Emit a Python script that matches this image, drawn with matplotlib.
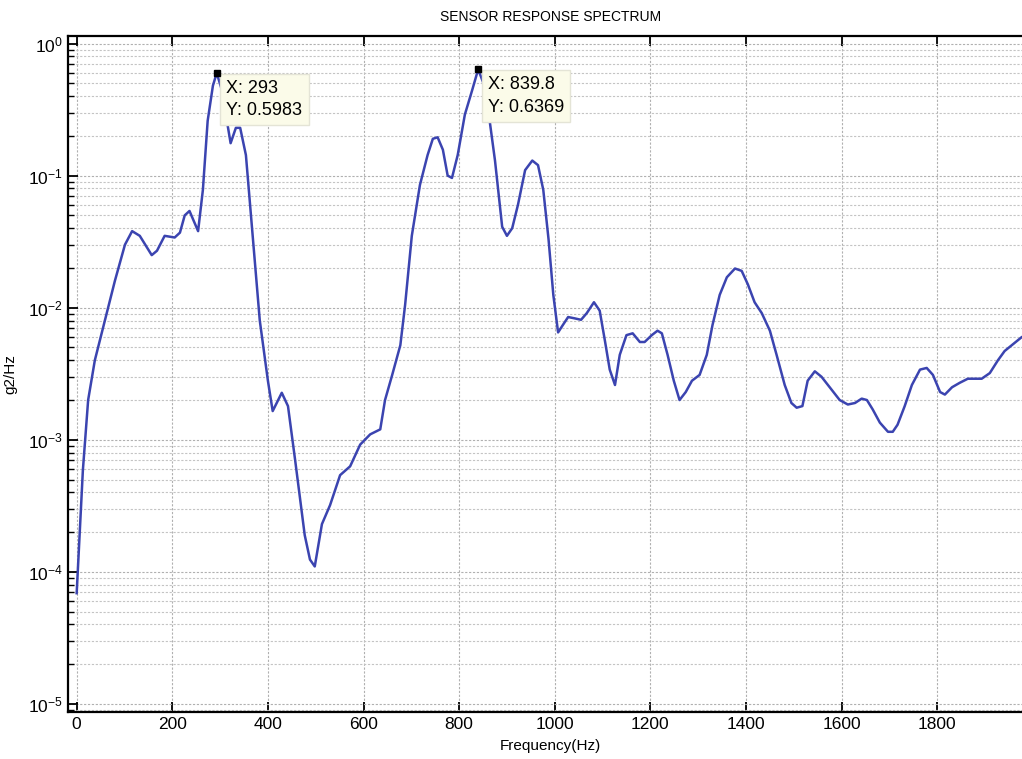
import numpy as np
import matplotlib.pyplot as plt
from matplotlib.ticker import LogLocator, NullFormatter

plt.rcParams['font.family'] = ['Liberation Sans', 'DejaVu Sans']

# spectrum read-out (Hz, g2/Hz)
freq = [0, 13, 24, 38, 59, 80, 101, 116, 132, 157, 168, 184, 205, 216, 226, 236,
        254, 264, 274, 285, 293, 304, 312, 322, 333, 342, 354, 367, 383, 400, 410,
        429, 442, 457, 477, 488, 498, 513, 530, 551, 572, 593, 614, 635, 645, 660,
        677, 687, 701, 718, 734, 745, 755, 766, 776, 785, 797, 812, 827, 839.8, 850,
        861, 875, 890, 900, 911, 923, 938, 953, 965, 976, 987, 997, 1007, 1017, 1028,
        1042, 1055, 1067, 1082, 1094, 1105, 1115, 1126, 1136, 1150, 1163, 1178, 1188,
        1203, 1215, 1224, 1236, 1249, 1261, 1274, 1287, 1303, 1318, 1330, 1345, 1360,
        1377, 1391, 1404, 1418, 1433, 1450, 1464, 1481, 1495, 1506, 1518, 1529, 1544,
        1558, 1575, 1596, 1613, 1628, 1642, 1653, 1665, 1680, 1697, 1707, 1717, 1732,
        1747, 1764, 1778, 1791, 1806, 1816, 1831, 1847, 1864, 1879, 1893, 1910, 1927,
        1941, 1956, 1977, 1995]
psd = [6.9e-5, 5.9e-4, 2.0e-3, 4.0e-3, 8.0e-3, 0.016, 0.030, 0.038, 0.035, 0.025,
       0.027, 0.035, 0.034, 0.037, 0.050, 0.054, 0.038, 0.078, 0.26, 0.48, 0.5983,
       0.44, 0.29, 0.176, 0.23, 0.23, 0.143, 0.039, 0.008, 2.8e-3, 1.65e-3, 2.27e-3,
       1.8e-3, 7.0e-4, 1.9e-4, 1.24e-4, 1.1e-4, 2.3e-4, 3.2e-4, 5.4e-4, 6.3e-4,
       9.2e-4, 1.1e-3, 1.2e-3, 2.0e-3, 3.1e-3, 5.2e-3, 0.0105, 0.035, 0.085, 0.143,
       0.19, 0.195, 0.157, 0.10, 0.096, 0.143, 0.29, 0.44, 0.6369, 0.51, 0.31, 0.13,
       0.041, 0.035, 0.040, 0.060, 0.11, 0.13, 0.12, 0.078, 0.033, 0.0125, 6.5e-3,
       7.4e-3, 8.5e-3, 8.3e-3, 8.1e-3, 9.1e-3, 0.011, 9.5e-3, 5.6e-3, 3.4e-3, 2.6e-3,
       4.4e-3, 6.2e-3, 6.4e-3, 5.5e-3, 5.5e-3, 6.2e-3, 6.7e-3, 6.4e-3, 4.4e-3, 2.8e-3,
       2.0e-3, 2.3e-3, 2.8e-3, 3.1e-3, 4.4e-3, 7.4e-3, 0.0125, 0.017, 0.0198, 0.019,
       0.015, 0.011, 9.1e-3, 6.7e-3, 4.4e-3, 2.6e-3, 1.9e-3, 1.75e-3, 1.8e-3, 2.8e-3,
       3.3e-3, 3.0e-3, 2.5e-3, 2.0e-3, 1.85e-3, 1.9e-3, 2.05e-3, 2.0e-3, 1.7e-3,
       1.35e-3, 1.15e-3, 1.15e-3, 1.3e-3, 1.8e-3, 2.6e-3, 3.4e-3, 3.5e-3, 3.1e-3,
       2.3e-3, 2.2e-3, 2.5e-3, 2.7e-3, 2.9e-3, 2.9e-3, 2.9e-3, 3.2e-3, 4.0e-3, 4.7e-3,
       5.2e-3, 6.0e-3, 6.3e-3]

# data tips
tip_x = [293, 839.8]
tip_y = [0.5983, 0.6369]
x_ticks = [0, 200, 400, 600, 800, 1000, 1200, 1400, 1600, 1800]

fig = plt.figure(figsize=(10.22, 7.59), dpi=100)
ax = fig.add_axes([0.0666, 0.062, 0.944, 0.8906])

ax.semilogy(freq, psd, color='#3b44b0', lw=1.8)
ax.plot(tip_x, tip_y, 's', color='black', ms=5, zorder=5)
for tx, ty in zip(tip_x, tip_y):
    ax.annotate(f"X: {tx:g}\nY: {ty:.4f}", (tx, ty), xytext=(7, -5),
                textcoords='offset points', ha='left', va='top',
                fontsize=13, linespacing=1.4,
                bbox=dict(boxstyle='square,pad=0.35', fc='#fbfbe9', ec='#e4e4d6'))

ax.set_xlim(-18, 2000)
ax.set_ylim(10**-5.06, 10**0.057)
ax.set_xticks(x_ticks)
ax.yaxis.set_major_locator(LogLocator(base=10, numticks=10))
ax.yaxis.set_minor_locator(LogLocator(base=10, subs=np.arange(2, 10), numticks=20))
ax.yaxis.set_minor_formatter(NullFormatter())

ax.grid(True, which='major', ls=(0, (2, 1.5)), color='#b0b0b0', lw=0.8)
ax.grid(True, which='minor', axis='y', ls=(0, (2, 1.5)), color='#c4c4c4', lw=0.8)
ax.tick_params(which='both', direction='in', top=True, right=True, labelsize=12.5)
ax.tick_params(which='major', length=7, width=1.3)
ax.tick_params(which='minor', length=4, width=1)
for s in ax.spines.values():
    s.set_linewidth(1.6)

ax.set_title('SENSOR RESPONSE SPECTRUM', fontsize=10, pad=11)
ax.set_xlabel('Frequency(Hz)', fontsize=11, labelpad=5)
ax.set_ylabel('g2/Hz', fontsize=11, labelpad=8)

fig.savefig('out.png', dpi=100)
